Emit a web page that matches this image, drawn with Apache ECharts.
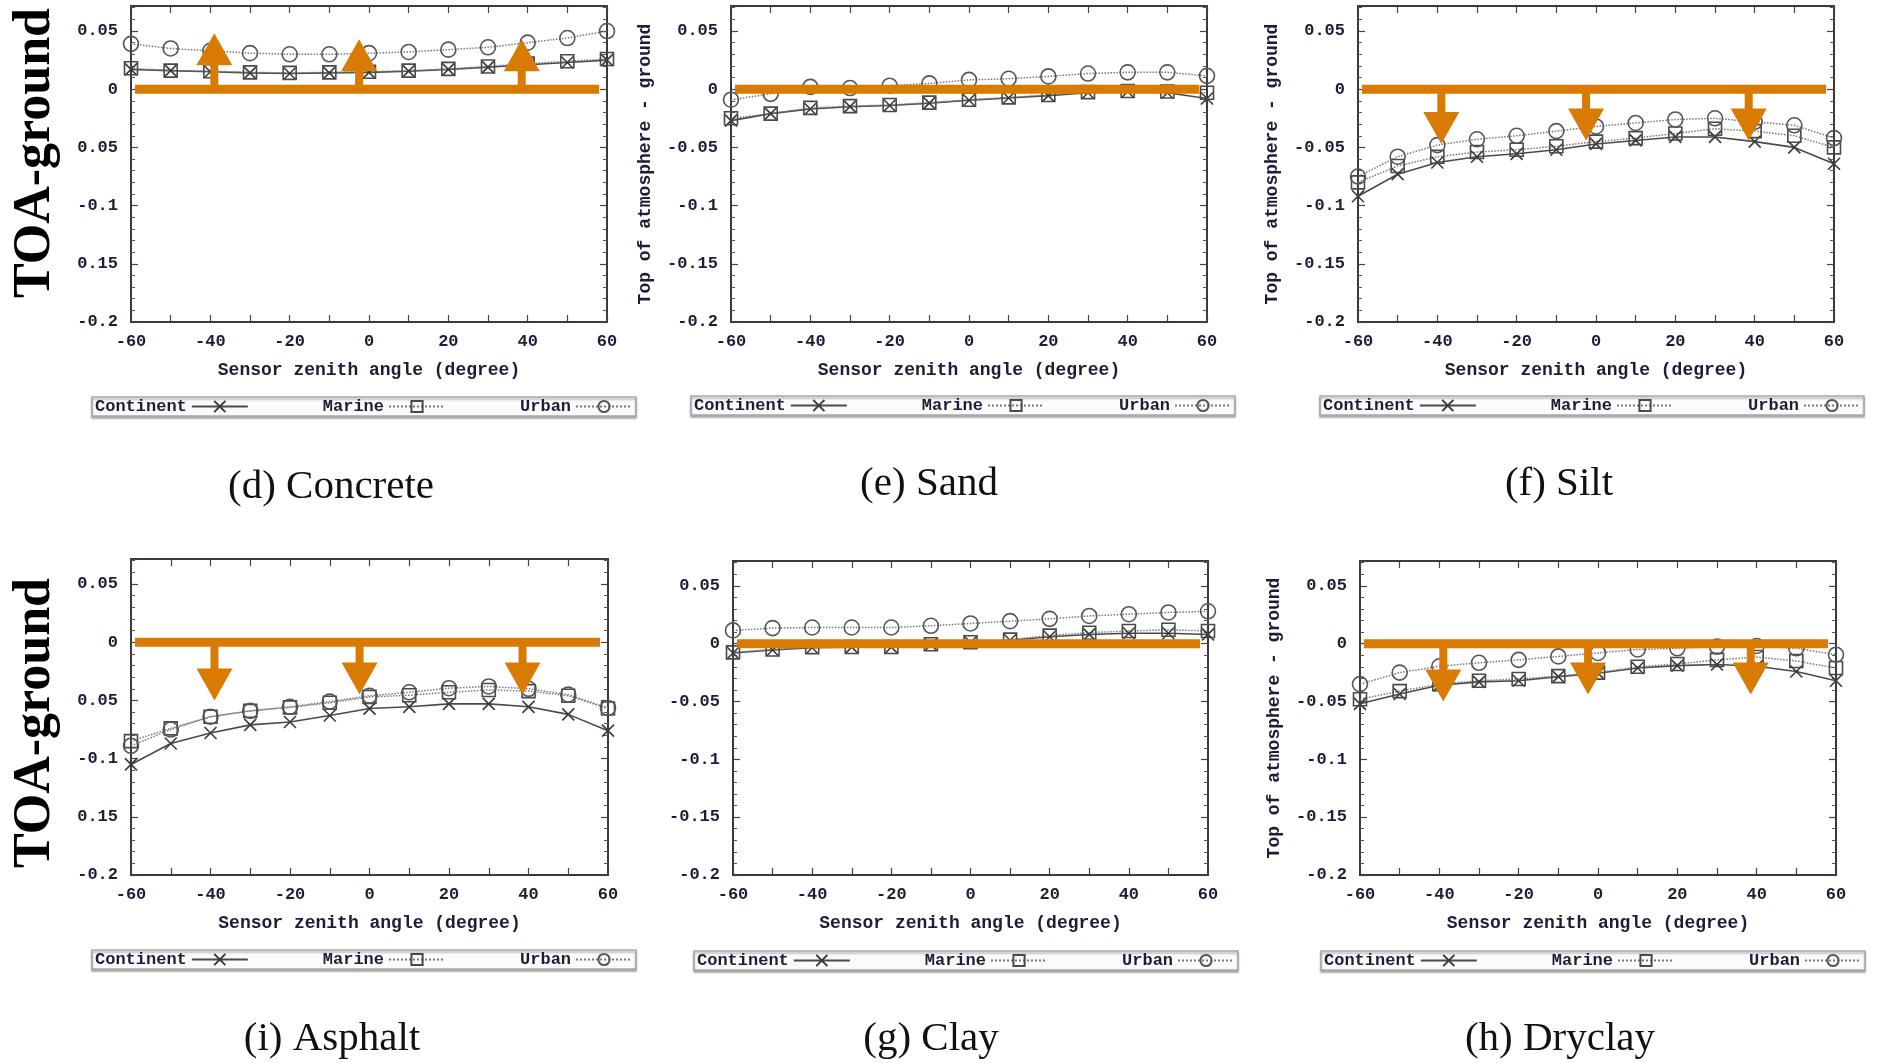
<!DOCTYPE html>
<html>
<head>
<meta charset="utf-8">
<script src="https://cdn.jsdelivr.net/npm/echarts@6.0.0/dist/echarts.min.js"></script>
<style>
  html, body { margin: 0; padding: 0; background: #fff; }
  #chart { width: 1881px; height: 1063px; }
</style>
</head>
<body>
<div id="chart"></div>
<script>
// sensor zenith angle (degree)
var angles = [-60, -50, -40, -30, -20, -10, 0, 10, 20, 30, 40, 50, 60];

// (d) Concrete
var concreteContinent = [0.017, 0.016, 0.015, 0.014, 0.0135, 0.014, 0.0145, 0.0155, 0.017, 0.019, 0.021, 0.023, 0.025];
var concreteMarine = [0.018, 0.016, 0.0155, 0.0145, 0.014, 0.0145, 0.015, 0.016, 0.0175, 0.0195, 0.022, 0.024, 0.026];
var concreteUrban = [0.039, 0.035, 0.033, 0.031, 0.030, 0.030, 0.031, 0.032, 0.034, 0.036, 0.040, 0.044, 0.050];
// (e) Sand
var sandContinent = [-0.027, -0.021, -0.017, -0.015, -0.014, -0.012, -0.0095, -0.0075, -0.0055, -0.003, -0.002, -0.003, -0.008];
var sandMarine = [-0.025, -0.021, -0.016, -0.0145, -0.0135, -0.0115, -0.009, -0.007, -0.005, -0.0025, -0.0015, -0.002, -0.003];
var sandUrban = [-0.009, -0.004, 0.002, 0.001, 0.003, 0.005, 0.008, 0.009, 0.011, 0.0135, 0.0145, 0.0145, 0.0115];
// (f) Silt
var siltContinent = [-0.092, -0.073, -0.063, -0.058, -0.0555, -0.052, -0.047, -0.044, -0.041, -0.041, -0.045, -0.050, -0.064];
var siltMarine = [-0.080, -0.066, -0.058, -0.054, -0.052, -0.049, -0.045, -0.042, -0.038, -0.034, -0.036, -0.040, -0.050];
var siltUrban = [-0.075, -0.058, -0.048, -0.043, -0.040, -0.036, -0.032, -0.029, -0.026, -0.025, -0.028, -0.031, -0.042];
// (i) Asphalt
var asphaltContinent = [-0.105, -0.087, -0.078, -0.071, -0.0685, -0.063, -0.057, -0.0555, -0.053, -0.053, -0.0555, -0.062, -0.076];
var asphaltMarine = [-0.085, -0.074, -0.064, -0.059, -0.056, -0.052, -0.047, -0.0455, -0.043, -0.041, -0.042, -0.046, -0.057];
var asphaltUrban = [-0.089, -0.075, -0.064, -0.059, -0.0555, -0.051, -0.046, -0.043, -0.0395, -0.038, -0.040, -0.045, -0.0565];
// (g) Clay
var clayContinent = [-0.008, -0.0055, -0.0035, -0.003, -0.003, -0.0008, 0.001, 0.003, 0.006, 0.008, 0.009, 0.009, 0.008];
var clayMarine = [-0.0075, -0.005, -0.003, -0.0028, -0.0028, -0.0005, 0.0012, 0.0035, 0.007, 0.0095, 0.011, 0.012, 0.011];
var clayUrban = [0.0115, 0.0135, 0.014, 0.014, 0.014, 0.0155, 0.0175, 0.0195, 0.0215, 0.024, 0.0255, 0.027, 0.028];
// (h) Dryclay
var dryclayContinent = [-0.052, -0.0435, -0.036, -0.033, -0.032, -0.0285, -0.0255, -0.021, -0.019, -0.018, -0.0195, -0.024, -0.032];
var dryclayMarine = [-0.048, -0.041, -0.035, -0.032, -0.0305, -0.028, -0.025, -0.020, -0.0175, -0.014, -0.0115, -0.015, -0.021];
var dryclayUrban = [-0.035, -0.025, -0.0195, -0.0165, -0.014, -0.011, -0.008, -0.005, -0.004, -0.0025, -0.002, -0.004, -0.0095];

// orange annotations: zero bar span, arrow positions and arrow tips
var zeroBarSpan = [-59, 58];
var arrowAngles = [-39, -2.5, 38.5];
var concreteArrowTips = [0.048, 0.043, 0.043];
var siltArrowTips = [-0.047, -0.044, -0.044];
var asphaltArrowTips = [-0.05, -0.045, -0.045];
var dryclayArrowTips = [-0.05, -0.044, -0.044];

var yTicks = ['0.05', '0', '-0.05', '-0.1', '-0.15', '-0.2'];
var captions = ['(d) Concrete', '(e) Sand', '(f) Silt', '(i) Asphalt', '(g) Clay', '(h) Dryclay'];
var seriesNames = ['Continent', 'Marine', 'Urban'];

var panelData = [
  [concreteContinent, concreteMarine, concreteUrban, concreteArrowTips],
  [sandContinent, sandMarine, sandUrban, []],
  [siltContinent, siltMarine, siltUrban, siltArrowTips],
  [asphaltContinent, asphaltMarine, asphaltUrban, asphaltArrowTips],
  [clayContinent, clayMarine, clayUrban, []],
  [dryclayContinent, dryclayMarine, dryclayUrban, dryclayArrowTips]
];

// layout of the six gnuplot panels
var layout = [
  { left: 131, top: 6, width: 476, height: 316, legL: 92, legT: 397, capX: 331, capY: 487, yName: false, noMinus: true },
  { left: 731, top: 6, width: 476, height: 316, legL: 691, legT: 396, capX: 929, capY: 484, yName: true },
  { left: 1358, top: 6, width: 476, height: 316, legL: 1320, legT: 396, capX: 1559, capY: 484, yName: true },
  { left: 131, top: 559, width: 477, height: 316, legL: 92, legT: 950, capX: 332, capY: 1039, yName: false, noMinus: true },
  { left: 733, top: 561, width: 475, height: 314, legL: 694, legT: 951, capX: 931, capY: 1039, yName: false },
  { left: 1360, top: 561, width: 476, height: 314, legL: 1321, legT: 951, capX: 1560, capY: 1039, yName: true }
];

var ORANGE = '#d97a02';
var INK = '#1d1d36';
var MONO = '"Liberation Mono", "DejaVu Sans Mono", monospace';
var SERIF = '"Liberation Serif", "DejaVu Serif", serif';
var xSymbol = 'path://M0,0L10,10M10,0L0,10';

function pairs(ys) {
  return angles.map(function (a, i) { return [a, ys[i]]; });
}

function arrowItem(params, api) {
  var base = api.coord([api.value(0), 0]);
  var tip = api.coord([api.value(0), api.value(1)]);
  var dir = tip[1] < base[1] ? -1 : 1;
  var hw = 18, sw = 4, hh = 32;
  var neck = tip[1] - dir * hh;
  return {
    type: 'polygon',
    shape: {
      points: [
        [base[0] - sw, base[1]], [base[0] - sw, neck], [base[0] - hw, neck],
        [tip[0], tip[1]],
        [base[0] + hw, neck], [base[0] + sw, neck], [base[0] + sw, base[1]]
      ]
    },
    style: { fill: ORANGE }
  };
}

var grids = [], xAxes = [], yAxes = [], series = [], legends = [], graphics = [];
var textBase = { fontFamily: MONO, fontWeight: 'bold', fontSize: 17, color: INK };
var titleText = { fontFamily: MONO, fontWeight: 'bold', fontSize: 18, color: INK };

layout.forEach(function (l, i) {
  grids.push({
    left: l.left, top: l.top, width: l.width, height: l.height,
    show: true, borderColor: '#3a3a3a', borderWidth: 2,
    containLabel: false, outerBoundsMode: 'none'
  });

  var tickStyle = { show: true, inside: true, length: 7, lineStyle: { color: '#444', width: 1.2 } };
  var minor = { show: true, splitNumber: 5, length: 4, lineStyle: { color: '#555', width: 1 } };
  var noLine = { show: false, onZero: false };

  xAxes.push({
    gridIndex: i, type: 'value', min: -60, max: 60, interval: 10,
    axisLine: noLine, splitLine: { show: false },
    axisTick: tickStyle,
    axisLabel: Object.assign({
      margin: 11,
      formatter: function (v) { return v % 20 === 0 ? String(v) : ''; }
    }, textBase),
    name: 'Sensor zenith angle (degree)', nameLocation: 'middle', nameGap: 39,
    nameTextStyle: titleText
  });
  xAxes.push({
    gridIndex: i, type: 'value', position: 'top', min: -60, max: 60, interval: 10,
    axisLine: noLine, splitLine: { show: false },
    axisTick: tickStyle, axisLabel: { show: false }
  });

  yAxes.push({
    gridIndex: i, type: 'value', position: 'left', min: -0.2, max: 0.0715, interval: 0.05,
    axisLine: noLine, splitLine: { show: false },
    axisTick: tickStyle, minorTick: minor,
    axisLabel: Object.assign({
      margin: 13, showMaxLabel: false,
      formatter: function (v) {
        var s = String(Math.round(v * 100) / 100);
        if (yTicks.indexOf(s) < 0) return '';
        if (l.noMinus && (s === '-0.05' || s === '-0.15')) s = s.slice(1);
        return s;
      }
    }, textBase),
    name: l.yName ? 'Top of atmosphere - ground' : '',
    nameLocation: 'middle', nameGap: 77,
    nameTextStyle: titleText
  });
  yAxes.push({
    gridIndex: i, type: 'value', position: 'right', min: -0.2, max: 0.0715, interval: 0.05,
    axisLine: noLine, splitLine: { show: false },
    axisTick: tickStyle, minorTick: minor, axisLabel: { show: false }
  });

  var d = panelData[i];
  var common = { type: 'line', xAxisIndex: 2 * i, yAxisIndex: 2 * i, emphasis: { disabled: true }, z: 3 };
  series.push(Object.assign({}, common, {
    name: 'Continent', data: pairs(d[0]), symbol: xSymbol, symbolSize: 12,
    lineStyle: { color: '#4a4a4a', width: 1.6 },
    itemStyle: { color: '#4a4a4a', borderColor: '#3a3a3a', borderWidth: 1.6 }
  }));
  series.push(Object.assign({}, common, {
    name: 'Marine', data: pairs(d[1]), symbol: 'rect', symbolSize: 13,
    lineStyle: { color: '#777', width: 1.5, type: 'dotted' },
    itemStyle: { color: 'rgba(255,255,255,0)', borderColor: '#4a4a4a', borderWidth: 1.6 }
  }));
  series.push(Object.assign({}, common, {
    name: 'Urban', data: pairs(d[2]), symbol: 'circle', symbolSize: 15,
    lineStyle: { color: '#777', width: 1.5, type: 'dotted' },
    itemStyle: { color: 'rgba(255,255,255,0)', borderColor: '#555', borderWidth: 1.6 }
  }));
  // orange zero bar
  series.push({
    type: 'line', name: 'zero' + i, xAxisIndex: 2 * i, yAxisIndex: 2 * i,
    data: [[zeroBarSpan[0], 0], [zeroBarSpan[1], 0]], symbol: 'none',
    lineStyle: { color: ORANGE, width: 9, cap: 'butt' }, z: 10, silent: true,
    emphasis: { disabled: true }
  });
  // orange arrows
  if (d[3].length) {
    series.push({
      type: 'custom', name: 'arrows' + i, xAxisIndex: 2 * i, yAxisIndex: 2 * i,
      data: arrowAngles.map(function (a, k) { return [a, d[3][k]]; }),
      renderItem: arrowItem, z: 11, silent: true, clip: false
    });
  }

  legends.push({
    left: l.legL, top: l.legT, orient: 'horizontal', align: 'right',
    data: seriesNames, selectedMode: false,
    itemWidth: 56, itemHeight: 14, itemGap: 74, padding: [1, 3],
    backgroundColor: '#fbfbfb', borderColor: '#a8a8a8', borderWidth: 1.5,
    shadowColor: 'rgba(0,0,0,0.3)', shadowBlur: 2, shadowOffsetY: 2,
    textStyle: { fontFamily: MONO, fontWeight: 'bold', fontSize: 17, color: INK }
  });

  graphics.push({
    type: 'text', x: l.capX, y: l.capY,
    style: { text: captions[i], font: '41px ' + SERIF, fill: '#111', align: 'center', verticalAlign: 'middle' }
  });
});

// big "TOA-ground" labels on the left of each row
[153, 723].forEach(function (cy) {
  graphics.push({
    type: 'text', x: 36, y: cy, rotation: Math.PI / 2,
    style: { text: 'TOA-ground', font: 'bold 52px ' + SERIF, fill: '#000', align: 'center', verticalAlign: 'middle' }
  });
});

var chart = echarts.init(document.getElementById('chart'), null, { renderer: 'canvas' });
chart.setOption({
  animation: false,
  backgroundColor: '#fff',
  grid: grids,
  xAxis: xAxes,
  yAxis: yAxes,
  legend: legends,
  series: series,
  graphic: graphics
});
</script>
</body>
</html>
